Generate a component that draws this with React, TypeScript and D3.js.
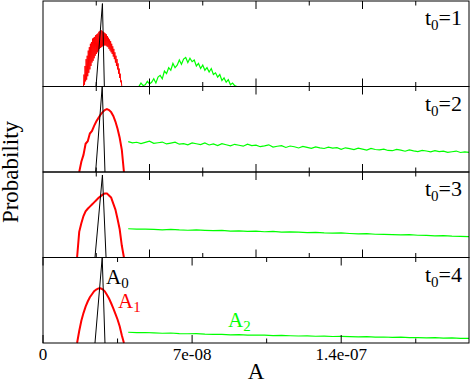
import * as d3 from "d3";

// A values are in units of 1e-8, probabilities in % of panel height
const tickValues = [0, 7, 14];
const tickLabels = ["0", "7e-08", "1.4e-07"];
const lowerMinor = [3.5, 10.5, 17.5];
const upperMajor = [5, 10, 15];
const upperMinor = [2.5, 7.5, 12.5, 17.5];
const panelLabels = ["1", "2", "3", "4"];

// A0: narrow peaks (A, P)
const black1: [number, number][] = [[2.49, 0], [2.79, 97], [2.88, 0]];
const black2: [number, number][] = [[2.47, 0], [2.78, 100], [2.91, 0]];
const black3: [number, number][] = [[2.44, 0], [2.79, 96.5], [2.96, 0]];
const black4: [number, number][] = [[2.44, 0], [2.78, 100], [2.91, 0]];

// A1: histograms (start, bin width, values)
const red1 = { start: 1.9, step: 0.025, p: [
  0, 14, 2, 24, 6, 32, 8, 36, 12, 42,
  16, 46, 20, 50, 24, 52, 28, 56, 30, 57,
  33, 58, 36, 60, 38, 61, 40, 62, 42, 64,
  44, 65, 45, 66, 46, 65, 47, 64, 48, 63,
  48, 62, 48, 61, 47, 59, 46, 57, 44, 55,
  42, 53, 40, 50, 38, 47, 35, 44, 32, 40,
  28, 36, 24, 32, 20, 27, 15, 21, 10, 15,
  5, 7, 0] };
const red2 = { start: 1.7, step: 0.1, p: [0, 12, 20, 33, 36, 45, 48, 54, 59, 63, 67, 70, 72.5, 73.5, 72.5, 70, 65.5, 59, 50.5, 40, 26, 0] };
const red3 = { start: 1.6, step: 0.1, p: [0, 30, 40, 48.5, 54, 57, 59.5, 62, 64.5, 67, 69.5, 71.5, 73.5, 75, 75, 72.5, 70, 63, 56, 45, 33, 14, 0] };
const red4 = { start: 1.6, step: 0.1, p: [0, 14, 26, 35, 42.5, 48.5, 53.5, 57, 60.5, 62.5, 63.8, 64, 62.8, 60.5, 56.5, 52, 46.5, 40.5, 34, 27.5, 19.5, 9, 0] };

// A2
const green1 = { start: 4.5, step: 0.1, p: [
  0, 4, 1, 2, 6, 3, 5, 9, 4, 11,
  13, 9, 18, 15, 22, 19, 27, 22, 25, 31,
  26, 32, 34, 28, 33, 29, 31, 24, 27, 21,
  25, 19, 22, 17, 21, 14, 16, 11, 14, 7,
  10, 5, 8, 2, 4, 1, 0] };
const green2 = { start: 4, step: 0.2, p: [
  35.5, 34, 34.8, 33.2, 34.6, 36, 33.5, 34.2, 35, 32.8,
  33.8, 34.9, 32.5, 33.2, 31.8, 34.1, 33, 32, 33.9, 31.6,
  32.8, 31, 33.2, 31.9, 30.5, 32.4, 31.3, 30.2, 32.6, 30.9,
  31.4, 29.6, 30.5, 31.8, 29.2, 30.1, 30.9, 28.7, 30.4, 29.5,
  28.1, 29.9, 28.8, 27.6, 29.4, 28.2, 27.5, 29.1, 27.9, 28.4,
  26.6, 28.3, 27.4, 26.1, 27.9, 26.8, 25.7, 27.5, 26.3, 25.9,
  26.8, 25.2, 24.9, 26.4, 25.6, 24.3, 25.9, 24.8, 23.9, 25.3,
  24.6, 23.5, 25, 23.8, 24.4, 22.9, 23.7, 24.5, 22.8, 23.6,
  22.9] };
const green3 = { start: 4, step: 0.4, p: [
  33.6, 33.1, 33.3, 32.9, 32.4, 33, 32.3, 31.9, 32.4, 31.8,
  31.4, 31.7, 30.9, 31.2, 30.6, 30.8, 30.1, 30.5, 29.7, 29.9,
  29.6, 29.1, 29.4, 28.7, 28.4, 28.8, 28.1, 27.6, 27.9, 27.2,
  27, 26.8, 26.4, 26.7, 26, 25.8, 25.4, 25.7, 25, 24.8,
  24.5] };
const green4 = { start: 4, step: 0.4, p: [
  12.6, 12.1, 12.3, 11.8, 11.4, 11.7, 11, 10.8, 11, 10.3,
  10.1, 10.2, 9.6, 9.8, 9.3, 9.1, 9.3, 8.7, 8.9, 8.5,
  8.2, 8.4, 7.9, 8.1, 7.6, 7.8, 7.4, 7.2, 7.4, 6.9,
  7, 6.6, 6.8, 6.3, 6.4, 6, 6.2, 5.8, 5.9, 5.5,
  5.5] };

const blacks = [black1, black2, black3, black4];
const reds = [red1, red2, red3, red4];
const greens = [green1, green2, green3, green4];

const W = 471;
const H = 382;
const left = 43;
const right = 469;
const top = 1;
const panelH = 85.5;
const font = "'Liberation Serif', 'Times New Roman', serif";

const bins = (s: { start: number; step: number; p: number[] }) =>
  s.p.map((v, i) => [s.start + i * s.step, v] as [number, number]);

export default function App() {
  const x = d3.scaleLinear().domain([0, 20]).range([left, right]);
  const bottom = top + panelH * 4;

  return (
    <svg width={W} height={H} style={{ position: "absolute", left: 0, top: 0, background: "#fff" }}>
      {panelLabels.map((lab, i) => {
        const y0 = top + panelH * i;
        const y1 = y0 + panelH;
        const y = d3.scaleLinear().domain([0, 100]).range([y1, y0]);
        const line = d3.line<[number, number]>().x(d => x(d[0])).y(d => y(d[1]));
        const majors = i === 3 ? tickValues : upperMajor;
        const minors = i === 3 ? lowerMinor : upperMinor;
        return (
          <g key={lab}>
            <path d={line(bins(greens[i])) ?? ""} fill="none" stroke="#00ff00" strokeWidth={1.2} />
            <path d={line(bins(reds[i])) ?? ""} fill="none" stroke="#ff0000" strokeWidth={i === 0 ? 1 : 2} />
            <path d={line(blacks[i]) ?? ""} fill="none" stroke="#000" strokeWidth={1} />
            {majors.map(v => (
              <g key={"M" + v}>
                <line x1={x(v)} x2={x(v)} y1={y0} y2={y0 + 8} stroke="#000" />
                <line x1={x(v)} x2={x(v)} y1={y1} y2={y1 - 8} stroke="#000" />
              </g>
            ))}
            {minors.map(v => (
              <g key={"m" + v}>
                <line x1={x(v)} x2={x(v)} y1={y0} y2={y0 + 4.5} stroke="#000" />
                <line x1={x(v)} x2={x(v)} y1={y1} y2={y1 - 4.5} stroke="#000" />
              </g>
            ))}
            <rect x={left} y={y0} width={right - left} height={panelH} fill="none" stroke="#000" strokeWidth={1} />
            <text x={462} y={y0 + 24} textAnchor="end" fontFamily={font} fontSize={22}>
              t<tspan fontSize={15} dy={5}>0</tspan><tspan dy={-5}>={lab}</tspan>
            </text>
          </g>
        );
      })}

      {tickValues.map((v, i) => (
        <text key={v} x={x(v)} y={bottom + 17} textAnchor="middle" fontFamily={font} fontSize={17}>
          {tickLabels[i]}
        </text>
      ))}

      <text x={256} y={379} textAnchor="middle" fontFamily={font} fontSize={23}>A</text>
      <text transform={`translate(18,${top + panelH * 2}) rotate(-90)`} textAnchor="middle" fontFamily={font} fontSize={23}>
        Probability
      </text>

      <text x={106} y={284} fontFamily={font} fontSize={21} fill="#000">
        A<tspan fontSize={15} dy={4}>0</tspan>
      </text>
      <text x={118} y={308} fontFamily={font} fontSize={21} fill="#ff0000">
        A<tspan fontSize={15} dy={4}>1</tspan>
      </text>
      <text x={228} y={327} fontFamily={font} fontSize={21} fill="#00ff00">
        A<tspan fontSize={15} dy={4}>2</tspan>
      </text>
    </svg>
  );
}
